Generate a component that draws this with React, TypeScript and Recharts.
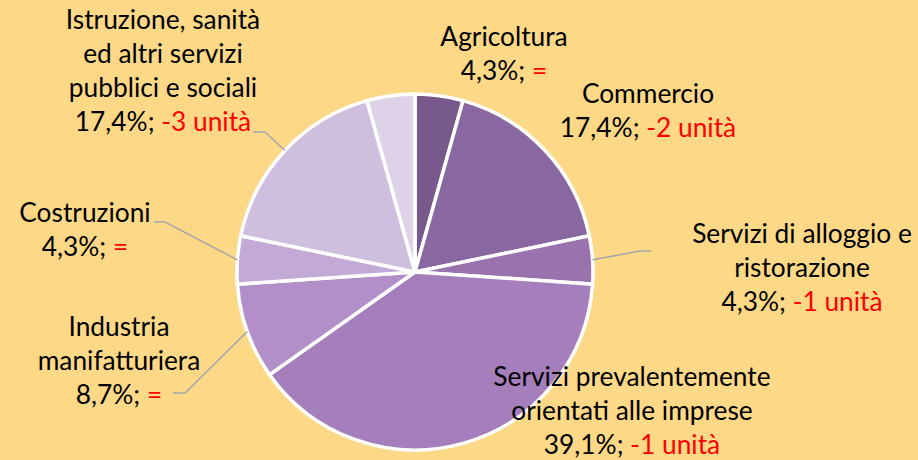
import React from "react";
import { PieChart, Pie, Cell } from "recharts";

const categories = [
  "Agricoltura",
  "Commercio",
  "Servizi di alloggio e ristorazione",
  "Servizi prevalentemente orientati alle imprese",
  "Industria manifatturiera",
  "Costruzioni",
  "Istruzione, sanità ed altri servizi pubblici e sociali",
  "Altro",
];
const categoryLines = [
  ["Agricoltura"],
  ["Commercio"],
  ["Servizi di alloggio e", "ristorazione"],
  ["Servizi prevalentemente", "orientati alle imprese"],
  ["Industria", "manifatturiera"],
  ["Costruzioni"],
  ["Istruzione, sanità", "ed altri servizi", "pubblici e sociali"],
  [],
];
const units = [1, 4, 1, 9, 2, 1, 4, 1];
const changes = ["=", "-2 unità", "-1 unità", "-1 unità", "=", "=", "-3 unità", ""];

const COLORS = ["#775A8B", "#8967A0", "#9A72AE", "#A57EBC", "#B28FC8", "#C3A9D6", "#CFBFDE", "#DED2E8"];
const BG = "#FDD886";
const FONT = "Lato, 'Noto Sans', sans-serif";
const FS = 26.3;
const LH = 34;

// label layout: text center x, first baseline y, optional leader (from text side point, bend point)
const labelLayout = [
  { x: 504, y: 46, leader: null },
  { x: 648, y: 103, leader: null },
  { x: 802, y: 243, leader: [[651, 251], [640, 251]] },
  { x: 632, y: 386, leader: null },
  { x: 119, y: 336, leader: [[173, 393], [185, 393]] },
  { x: 85, y: 222, leader: [[154, 222], [165, 222]] },
  { x: 163, y: 29, leader: [[253, 132], [265, 132]] },
  null,
];

const data = categories.map((name, i) => ({ name, value: units[i] }));
const total = units.reduce((a, b) => a + b, 0);
const RAD = Math.PI / 180;

const renderLabel = (props: any) => {
  const { cx, cy, midAngle, outerRadius, index } = props;
  const lay = labelLayout[index];
  if (!lay) return null;
  const ex = cx + outerRadius * Math.cos(-midAngle * RAD);
  const ey = cy + outerRadius * Math.sin(-midAngle * RAD);
  const pct = ((units[index] / total) * 100).toFixed(1).replace(".", ",") + "%";
  const lines = categoryLines[index];
  return (
    <g key={`lbl-${index}`}>
      {lay.leader && (
        <polyline
          points={`${lay.leader[0][0]},${lay.leader[0][1]} ${lay.leader[1][0]},${lay.leader[1][1]} ${ex},${ey}`}
          fill="none"
          stroke="#A3A6AA"
          strokeWidth={1.5}
        />
      )}
      <text x={lay.x} y={lay.y} textAnchor="middle" fontFamily={FONT} fontSize={FS} fill="#000">
        {lines.map((l, k) => (
          <tspan key={k} x={lay.x} y={lay.y + k * LH}>
            {l}
          </tspan>
        ))}
        <tspan x={lay.x} y={lay.y + lines.length * LH}>
          {pct + "; "}
          <tspan fill="#FF0000">{changes[index]}</tspan>
        </tspan>
      </text>
    </g>
  );
};

export default function App() {
  return (
    <div style={{ position: "absolute", left: 0, top: 0, width: 918, height: 460, background: BG, overflow: "hidden" }}>
      <PieChart width={918} height={460} margin={{ top: 0, right: 0, bottom: 0, left: 0 }}>
        <Pie
          data={data}
          dataKey="value"
          nameKey="name"
          cx={415}
          cy={272}
          outerRadius={178}
          startAngle={90}
          endAngle={-270}
          stroke="#FFFFFF"
          strokeWidth={3.5}
          label={renderLabel}
          labelLine={false}
          isAnimationActive={false}
        >
          {data.map((d, i) => (
            <Cell key={d.name} fill={COLORS[i]} />
          ))}
        </Pie>
      </PieChart>
    </div>
  );
}
